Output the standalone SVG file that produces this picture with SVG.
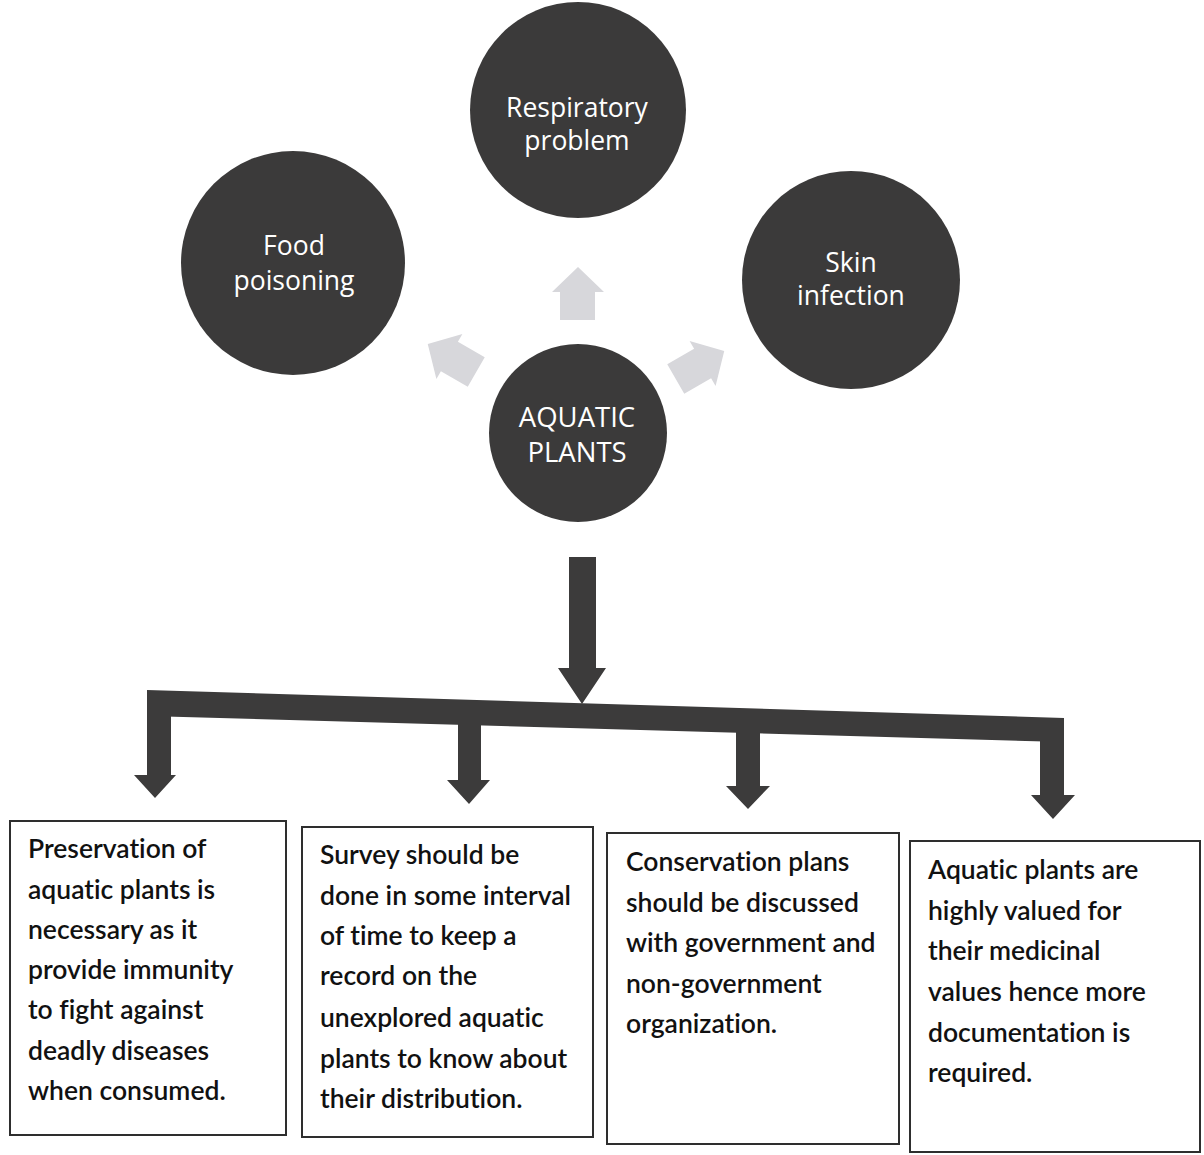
<svg xmlns="http://www.w3.org/2000/svg" width="1204" height="1155" viewBox="0 0 1204 1155">
<style>
.circ{fill:#3b3a3a;}
.ctext{fill:#ffffff;font-family:"Open Sans","Noto Sans",sans-serif;font-size:26.5px;text-anchor:middle;}
.big{font-size:27.5px;}
.box{fill:#ffffff;stroke:#2e2e2e;stroke-width:2;}
.btext{fill:#111;font-family:Lato,"Liberation Sans",sans-serif;font-size:26.5px;font-weight:600;font-variant-ligatures:none;}
.dark{fill:#3c3b3b;}
.light{fill:#d7d7db;}
</style>
<rect width="1204" height="1155" fill="#ffffff"/>
<g id="node-respiratory">
<circle class="circ" cx="578" cy="110" r="108"/>
<text class="ctext" x="577" y="117">Respiratory</text>
<text class="ctext" x="577" y="150">problem</text>
</g>
<g id="node-food">
<circle class="circ" cx="293" cy="263" r="112"/>
<text class="ctext" x="294" y="255">Food</text>
<text class="ctext" x="294" y="290">poisoning</text>
</g>
<g id="node-skin">
<circle class="circ" cx="851" cy="280" r="109"/>
<text class="ctext" x="851" y="272">Skin</text>
<text class="ctext" x="851" y="305">infection</text>
</g>
<g id="node-aquatic">
<circle class="circ" cx="578" cy="433" r="89"/>
<text class="ctext big" x="577" y="427">AQUATIC</text>
<text class="ctext big" x="577" y="462">PLANTS</text>
</g>
<g id="node-box1">
<rect class="box" x="10" y="821" width="276" height="314"/>
<text class="btext" x="28" y="858">Preservation of</text>
<text class="btext" x="28" y="899">aquatic plants is</text>
<text class="btext" x="28" y="939">necessary as it</text>
<text class="btext" x="28" y="979">provide immunity</text>
<text class="btext" x="28" y="1019">to fight against</text>
<text class="btext" x="28" y="1060">deadly diseases</text>
<text class="btext" x="28" y="1100">when consumed.</text>
</g>
<g id="node-box2">
<rect class="box" x="302" y="827" width="291" height="310"/>
<text class="btext" x="320" y="864">Survey should be</text>
<text class="btext" x="320" y="905">done in some interval</text>
<text class="btext" x="320" y="945">of time to keep a</text>
<text class="btext" x="320" y="985">record on the</text>
<text class="btext" x="320" y="1027">unexplored aquatic</text>
<text class="btext" x="320" y="1068">plants to know about</text>
<text class="btext" x="320" y="1108">their distribution.</text>
</g>
<g id="node-box3">
<rect class="box" x="607" y="833" width="292" height="311"/>
<text class="btext" x="626" y="871">Conservation plans</text>
<text class="btext" x="626" y="912">should be discussed</text>
<text class="btext" x="626" y="952">with government and</text>
<text class="btext" x="626" y="993">non-government</text>
<text class="btext" x="626" y="1033">organization.</text>
</g>
<g id="node-box4">
<rect class="box" x="910" y="841" width="290" height="311"/>
<text class="btext" x="928" y="879">Aquatic plants are</text>
<text class="btext" x="928" y="920">highly valued for</text>
<text class="btext" x="928" y="960">their medicinal</text>
<text class="btext" x="928" y="1001">values hence more</text>
<text class="btext" x="928" y="1042">documentation is</text>
<text class="btext" x="928" y="1082">required.</text>
</g>
<g id="connectors">
<polygon class="light" points="578,267 604,292 595,292 595,320 560,320 560,292 552,292"/>
<polygon class="light" transform="rotate(-60 452 358)" points="452,330 478,355 469,355 469,386 435,386 435,355 426,355"/>
<polygon class="light" transform="rotate(60 700 365)" points="700,337 726,362 717,362 717,393 683,393 683,362 674,362"/>
<polygon class="dark" points="569,557 596,557 596,668 606,668 582,704 558,668 569,668"/>
<polygon class="dark" points="147,690 1064,718 1064,742 147,716"/>
<polygon class="dark" points="147,710 171,710 171,775 176,775 155,798 134,775 147,775"/>
<polygon class="dark" points="458,720 481,720 481,780 490,780 469,804 447,780 458,780"/>
<polygon class="dark" points="736,728 760,728 760,786 770,786 748,809 726,786 736,786"/>
<polygon class="dark" points="1040,730 1064,730 1064,795 1075,795 1053,819 1031,795 1040,795"/>
</g>
</svg>
